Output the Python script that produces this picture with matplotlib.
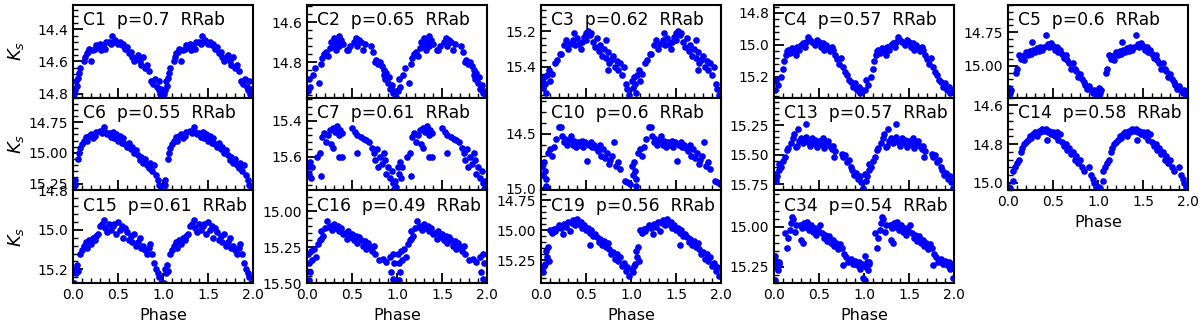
import numpy as np
import matplotlib
matplotlib.use('Agg')
import matplotlib.pyplot as plt
from matplotlib.ticker import MultipleLocator, AutoMinorLocator

# light curves, phase 0..1 as (phase, Ks) pairs
c1 = [(0.01, 14.80), (0.02, 14.78), (0.03, 14.72), (0.04, 14.75), (0.06, 14.70), (0.07, 14.67),
      (0.08, 14.64), (0.12, 14.60), (0.13, 14.57), (0.15, 14.55), (0.17, 14.54), (0.18, 14.52),
      (0.20, 14.60), (0.22, 14.53), (0.24, 14.52), (0.26, 14.50), (0.28, 14.51), (0.30, 14.49),
      (0.31, 14.53), (0.33, 14.50), (0.35, 14.52), (0.37, 14.48), (0.40, 14.48), (0.42, 14.49),
      (0.43, 14.44), (0.45, 14.48), (0.47, 14.47), (0.50, 14.49), (0.52, 14.48), (0.54, 14.50),
      (0.56, 14.49), (0.58, 14.52), (0.60, 14.51), (0.62, 14.55), (0.64, 14.54), (0.66, 14.57),
      (0.68, 14.60), (0.70, 14.58), (0.72, 14.56), (0.74, 14.60), (0.76, 14.62), (0.78, 14.57),
      (0.80, 14.64), (0.82, 14.62), (0.84, 14.66), (0.87, 14.72), (0.89, 14.74), (0.91, 14.71),
      (0.93, 14.76), (0.95, 14.78), (0.96, 14.72), (0.97, 14.80), (0.98, 14.77), (0.99, 14.82)]
c6 = [(0.01, 15.30), (0.02, 15.26), (0.02, 15.22), (0.06, 15.05), (0.07, 15.00), (0.08, 14.96),
      (0.10, 14.93), (0.12, 14.90), (0.14, 14.87), (0.16, 14.90), (0.18, 14.86), (0.20, 14.85),
      (0.22, 14.88), (0.24, 14.86), (0.26, 14.83), (0.30, 14.82), (0.32, 14.84), (0.34, 14.79),
      (0.36, 14.83), (0.38, 14.85), (0.40, 14.84), (0.42, 14.87), (0.44, 14.83), (0.46, 14.88),
      (0.48, 14.85), (0.50, 14.90), (0.52, 14.86), (0.54, 14.92), (0.56, 14.88), (0.58, 14.93),
      (0.60, 14.95), (0.62, 14.92), (0.64, 14.97), (0.66, 14.95), (0.68, 15.00), (0.70, 14.98),
      (0.72, 15.02), (0.74, 15.06), (0.76, 15.03), (0.78, 15.08), (0.80, 15.05), (0.82, 15.10),
      (0.84, 15.12), (0.86, 15.08), (0.88, 15.15), (0.90, 15.10), (0.92, 15.18), (0.94, 15.22),
      (0.96, 15.26), (0.98, 15.30)]
c15 = [(0.01, 15.27), (0.02, 15.20), (0.03, 15.22), (0.04, 15.18), (0.05, 15.21), (0.08, 15.12),
       (0.10, 15.10), (0.12, 15.08), (0.14, 15.06), (0.16, 15.09), (0.18, 15.05), (0.20, 15.07),
       (0.22, 15.04), (0.24, 15.05), (0.26, 15.03), (0.28, 15.02), (0.30, 14.98), (0.32, 14.97),
       (0.34, 14.95), (0.36, 14.99), (0.38, 15.01), (0.40, 14.97), (0.42, 15.00), (0.44, 14.98),
       (0.46, 14.97), (0.48, 15.02), (0.50, 14.96), (0.52, 15.00), (0.54, 14.98), (0.56, 15.04),
       (0.58, 14.99), (0.60, 15.01), (0.62, 15.05), (0.64, 15.03), (0.66, 15.06), (0.68, 15.02),
       (0.70, 15.08), (0.72, 15.06), (0.74, 15.04), (0.76, 15.09), (0.78, 15.08), (0.80, 15.10),
       (0.82, 15.12), (0.84, 15.09), (0.86, 15.07), (0.88, 15.12), (0.90, 15.17), (0.92, 15.20),
       (0.94, 15.22), (0.96, 15.24), (0.98, 15.27)]
c2 = [(0.01, 14.94), (0.02, 14.88), (0.03, 14.92), (0.07, 14.86), (0.09, 14.83), (0.13, 14.90),
      (0.15, 14.81), (0.17, 14.78), (0.19, 14.76), (0.21, 14.75), (0.23, 14.77), (0.25, 14.73),
      (0.27, 14.70), (0.29, 14.72), (0.30, 14.68), (0.32, 14.74), (0.33, 14.70), (0.35, 14.67),
      (0.36, 14.72), (0.38, 14.69), (0.40, 14.71), (0.44, 14.74), (0.46, 14.74), (0.48, 14.72),
      (0.52, 14.70), (0.54, 14.68), (0.56, 14.72), (0.58, 14.69), (0.60, 14.70), (0.62, 14.74),
      (0.64, 14.71), (0.71, 14.72), (0.73, 14.75), (0.75, 14.80), (0.77, 14.79), (0.79, 14.81),
      (0.81, 14.80), (0.83, 14.82), (0.85, 14.84), (0.86, 14.86), (0.87, 14.88), (0.88, 14.85),
      (0.90, 14.90), (0.91, 14.87), (0.92, 14.93), (0.94, 14.91), (0.95, 14.95), (0.97, 14.94),
      (0.99, 14.97)]
c7 = [(0.01, 15.66), (0.02, 15.70), (0.03, 15.63), (0.04, 15.72), (0.06, 15.66), (0.11, 15.60),
      (0.14, 15.58), (0.15, 15.71), (0.17, 15.49), (0.19, 15.47), (0.21, 15.52), (0.23, 15.48),
      (0.25, 15.45), (0.27, 15.53), (0.29, 15.44), (0.29, 15.55), (0.31, 15.46), (0.33, 15.43),
      (0.35, 15.48), (0.35, 15.60), (0.37, 15.45), (0.39, 15.47), (0.39, 15.60), (0.50, 15.44),
      (0.53, 15.46), (0.56, 15.48), (0.56, 15.58), (0.60, 15.49), (0.63, 15.50), (0.66, 15.51),
      (0.69, 15.52), (0.72, 15.55), (0.74, 15.58), (0.76, 15.62), (0.78, 15.56), (0.79, 15.66),
      (0.81, 15.60), (0.83, 15.64), (0.85, 15.58), (0.87, 15.62), (0.88, 15.70), (0.90, 15.66),
      (0.92, 15.72), (0.94, 15.68), (0.95, 15.75), (0.97, 15.78), (0.98, 15.74), (0.99, 15.77)]
c16 = [(0.01, 15.30), (0.02, 15.36), (0.03, 15.42), (0.02, 15.48), (0.05, 15.34), (0.04, 15.28),
       (0.08, 15.26), (0.10, 15.32), (0.12, 15.23), (0.14, 15.20), (0.15, 15.19), (0.16, 15.14),
       (0.18, 15.17), (0.20, 15.12), (0.22, 15.07), (0.24, 15.11), (0.26, 15.10), (0.28, 15.13),
       (0.30, 15.09), (0.32, 15.12), (0.34, 15.10), (0.36, 15.14), (0.38, 15.12), (0.40, 15.16),
       (0.42, 15.15), (0.44, 15.19), (0.46, 15.14), (0.48, 15.18), (0.50, 15.16), (0.52, 15.20),
       (0.54, 15.17), (0.56, 15.22), (0.58, 15.18), (0.60, 15.20), (0.62, 15.24), (0.64, 15.21),
       (0.66, 15.26), (0.68, 15.22), (0.70, 15.25), (0.72, 15.28), (0.74, 15.24), (0.76, 15.30),
       (0.80, 15.34), (0.84, 15.33), (0.88, 15.35), (0.92, 15.32), (0.93, 15.42), (0.95, 15.30),
       (0.96, 15.47), (0.97, 15.36)]
c3 = [(0.01, 15.48), (0.02, 15.52), (0.03, 15.46), (0.04, 15.50), (0.05, 15.55), (0.07, 15.45),
      (0.09, 15.42), (0.10, 15.48), (0.12, 15.44), (0.16, 15.38), (0.18, 15.36), (0.21, 15.33),
      (0.22, 15.33), (0.26, 15.28), (0.28, 15.25), (0.30, 15.30), (0.32, 15.27), (0.36, 15.25),
      (0.37, 15.21), (0.38, 15.28), (0.40, 15.24), (0.42, 15.27), (0.44, 15.30), (0.46, 15.26),
      (0.48, 15.23), (0.50, 15.25), (0.50, 15.21), (0.52, 15.20), (0.54, 15.22), (0.56, 15.21),
      (0.58, 15.26), (0.60, 15.29), (0.62, 15.24), (0.64, 15.31), (0.66, 15.28), (0.68, 15.34),
      (0.70, 15.30), (0.72, 15.35), (0.72, 15.25), (0.74, 15.32), (0.74, 15.42), (0.76, 15.38),
      (0.78, 15.36), (0.80, 15.34), (0.82, 15.40), (0.84, 15.37), (0.86, 15.42), (0.88, 15.38),
      (0.90, 15.45), (0.92, 15.40), (0.94, 15.50), (0.96, 15.53), (0.98, 15.56)]
c10 = [(0.01, 14.80), (0.02, 14.88), (0.03, 14.76), (0.04, 14.84), (0.05, 14.92), (0.06, 14.98),
       (0.08, 14.68), (0.10, 14.64), (0.12, 14.70), (0.14, 14.62), (0.17, 14.55), (0.20, 14.44),
       (0.22, 14.44), (0.23, 14.52), (0.25, 14.58), (0.27, 14.55), (0.29, 14.60), (0.31, 14.56),
       (0.33, 14.52), (0.35, 14.60), (0.37, 14.57), (0.39, 14.62), (0.41, 14.58), (0.43, 14.60),
       (0.45, 14.57), (0.47, 14.62), (0.49, 14.58), (0.51, 14.75), (0.53, 14.60), (0.55, 14.58),
       (0.57, 14.62), (0.59, 14.60), (0.61, 14.63), (0.63, 14.66), (0.65, 14.60), (0.67, 14.70),
       (0.69, 14.64), (0.71, 14.72), (0.73, 14.68), (0.75, 14.78), (0.77, 14.74), (0.79, 14.70),
       (0.81, 14.58), (0.83, 14.80), (0.85, 14.76), (0.88, 14.82), (0.93, 14.93), (0.96, 14.94),
       (0.99, 14.96)]
c19 = [(0.01, 15.32), (0.02, 15.35), (0.03, 15.30), (0.04, 15.28), (0.06, 15.17), (0.07, 15.22),
       (0.08, 15.14), (0.09, 15.26), (0.10, 15.00), (0.12, 15.02), (0.14, 14.99), (0.16, 15.01),
       (0.18, 14.98), (0.20, 14.96), (0.22, 14.98), (0.24, 15.03), (0.26, 14.95), (0.28, 14.97),
       (0.30, 14.93), (0.32, 15.01), (0.34, 14.94), (0.36, 14.92), (0.38, 14.96), (0.40, 14.91),
       (0.42, 14.95), (0.44, 14.93), (0.46, 14.98), (0.48, 14.96), (0.50, 15.00), (0.52, 14.98),
       (0.54, 15.02), (0.54, 15.12), (0.56, 15.00), (0.58, 15.05), (0.60, 15.03), (0.62, 15.06),
       (0.64, 15.10), (0.66, 15.07), (0.68, 15.12), (0.70, 15.09), (0.72, 15.14), (0.74, 15.11),
       (0.76, 15.16), (0.78, 15.20), (0.80, 15.18), (0.82, 15.24), (0.84, 15.20), (0.86, 15.26),
       (0.88, 15.22), (0.90, 15.30), (0.92, 15.27), (0.94, 15.34), (0.96, 15.31), (0.98, 15.38)]
c4 = [(0.01, 15.28), (0.02, 15.22), (0.04, 15.25), (0.08, 15.20), (0.10, 15.15), (0.11, 15.10),
      (0.13, 15.06), (0.14, 15.04), (0.16, 15.03), (0.18, 15.05), (0.20, 15.02), (0.22, 15.04),
      (0.24, 15.06), (0.26, 15.01), (0.28, 15.03), (0.30, 15.00), (0.32, 14.99), (0.34, 15.01),
      (0.36, 14.98), (0.38, 14.95), (0.40, 14.97), (0.42, 14.98), (0.44, 14.99), (0.46, 15.00),
      (0.48, 14.97), (0.50, 14.98), (0.52, 15.01), (0.54, 14.99), (0.56, 15.03), (0.58, 15.00),
      (0.60, 15.02), (0.62, 15.04), (0.64, 15.01), (0.66, 15.03), (0.68, 15.06), (0.70, 15.09),
      (0.72, 15.12), (0.74, 15.08), (0.77, 15.14), (0.79, 15.17), (0.81, 15.19), (0.83, 15.22),
      (0.86, 15.23), (0.88, 15.26), (0.90, 15.24), (0.92, 15.28), (0.94, 15.26), (0.96, 15.30),
      (0.98, 15.28)]
c13 = [(0.01, 15.66), (0.02, 15.72), (0.03, 15.68), (0.05, 15.63), (0.06, 15.58), (0.08, 15.60),
       (0.10, 15.55), (0.12, 15.52), (0.14, 15.46), (0.16, 15.44), (0.19, 15.40), (0.21, 15.36),
       (0.22, 15.32), (0.24, 15.43), (0.26, 15.42), (0.27, 15.28), (0.28, 15.38), (0.30, 15.36),
       (0.32, 15.40), (0.34, 15.38), (0.35, 15.24), (0.36, 15.35), (0.38, 15.39), (0.40, 15.42),
       (0.42, 15.36), (0.44, 15.40), (0.46, 15.37), (0.48, 15.43), (0.50, 15.38), (0.52, 15.41),
       (0.54, 15.36), (0.56, 15.44), (0.58, 15.40), (0.60, 15.38), (0.62, 15.42), (0.64, 15.45),
       (0.66, 15.42), (0.67, 15.52), (0.68, 15.47), (0.75, 15.49), (0.77, 15.52), (0.79, 15.50),
       (0.81, 15.56), (0.83, 15.54), (0.85, 15.60), (0.87, 15.63), (0.89, 15.67), (0.91, 15.65),
       (0.93, 15.70), (0.95, 15.68), (0.97, 15.73), (0.99, 15.78)]
c34 = [(0.01, 15.18), (0.01, 15.33), (0.02, 15.25), (0.03, 15.22), (0.04, 15.27), (0.05, 15.22),
       (0.06, 15.23), (0.12, 15.04), (0.14, 15.13), (0.16, 15.07), (0.18, 15.02), (0.19, 14.98),
       (0.20, 14.94), (0.21, 14.95), (0.23, 15.03), (0.24, 14.99), (0.29, 14.99), (0.30, 15.08),
       (0.31, 15.01), (0.32, 15.10), (0.33, 14.98), (0.35, 15.00), (0.37, 14.97), (0.39, 15.02),
       (0.41, 14.99), (0.43, 15.03), (0.45, 15.01), (0.47, 15.05), (0.49, 15.02), (0.51, 14.99),
       (0.53, 15.04), (0.55, 15.07), (0.57, 15.05), (0.59, 15.09), (0.61, 15.06), (0.63, 15.10),
       (0.65, 15.08), (0.67, 15.12), (0.69, 15.10), (0.71, 15.14), (0.73, 15.11), (0.75, 15.13),
       (0.77, 15.24), (0.78, 15.17), (0.80, 15.19), (0.82, 15.22), (0.86, 15.20), (0.88, 15.23),
       (0.90, 15.21), (0.92, 15.24), (0.94, 15.22), (0.96, 15.26), (0.98, 15.23), (0.99, 15.32)]
c5 = [(0.01, 15.16), (0.01, 15.22), (0.02, 15.20), (0.03, 15.18), (0.09, 15.05), (0.10, 15.02),
      (0.12, 14.92), (0.14, 14.95), (0.16, 14.93), (0.18, 14.96), (0.20, 14.90), (0.22, 14.92),
      (0.24, 14.89), (0.26, 14.91), (0.27, 14.82), (0.28, 14.88), (0.30, 14.90), (0.32, 14.87),
      (0.34, 14.89), (0.36, 14.86), (0.38, 14.88), (0.40, 14.86), (0.42, 14.77), (0.44, 14.84),
      (0.46, 14.86), (0.48, 14.83), (0.50, 14.85), (0.52, 14.88), (0.54, 14.86), (0.56, 14.90),
      (0.58, 14.88), (0.60, 14.91), (0.62, 14.94), (0.64, 14.92), (0.66, 14.96), (0.68, 14.98),
      (0.70, 15.02), (0.72, 14.98), (0.74, 15.02), (0.76, 15.04), (0.78, 15.08), (0.80, 15.06),
      (0.82, 15.10), (0.84, 15.12), (0.86, 15.14), (0.88, 15.17), (0.90, 15.15), (0.92, 15.18),
      (0.94, 15.20), (0.96, 15.18), (0.98, 15.21)]
c14 = [(0.01, 15.02), (0.02, 15.03), (0.05, 14.99), (0.06, 14.94), (0.08, 14.92), (0.10, 14.90),
       (0.12, 14.88), (0.14, 14.84), (0.16, 14.82), (0.18, 14.80), (0.20, 14.79), (0.22, 14.78),
       (0.24, 14.76), (0.26, 14.77), (0.28, 14.75), (0.30, 14.74), (0.32, 14.76), (0.34, 14.73),
       (0.36, 14.74), (0.38, 14.72), (0.40, 14.73), (0.42, 14.72), (0.43, 14.78), (0.44, 14.74),
       (0.46, 14.73), (0.48, 14.75), (0.50, 14.74), (0.52, 14.76), (0.54, 14.74), (0.56, 14.78),
       (0.58, 14.75), (0.60, 14.79), (0.62, 14.81), (0.64, 14.80), (0.66, 14.83), (0.68, 14.82),
       (0.70, 14.85), (0.72, 14.84), (0.74, 14.88), (0.76, 14.86), (0.78, 14.90), (0.80, 14.88),
       (0.82, 14.92), (0.84, 14.94), (0.90, 14.92), (0.92, 14.96), (0.94, 14.98), (0.96, 15.00),
       (0.98, 15.02)]

names = ['C1', 'C6', 'C15', 'C2', 'C7', 'C16', 'C3', 'C10', 'C19', 'C4', 'C13', 'C34', 'C5', 'C14']
periods = ['0.7', '0.55', '0.61', '0.65', '0.61', '0.49', '0.62', '0.6', '0.56', '0.57', '0.57', '0.54', '0.6', '0.58']
curves = [c1, c6, c15, c2, c7, c16, c3, c10, c19, c4, c13, c34, c5, c14]

# panel layout: (column, row), y limits (faint, bright), major y step
cells = [(0, 0), (0, 1), (0, 2), (1, 0), (1, 1), (1, 2), (2, 0), (2, 1), (2, 2),
         (3, 0), (3, 1), (3, 2), (4, 0), (4, 1)]
ylims = [(14.825, 14.25), (15.306, 14.55), (15.27, 14.80), (14.975, 14.515), (15.79, 15.27),
         (15.50, 14.855), (15.577, 15.05), (15.02, 14.17), (15.44, 14.67), (15.33, 14.75),
         (15.80, 15.015), (15.35, 14.775), (15.235, 14.55), (15.04, 14.56)]
ysteps = [0.2, 0.25, 0.2, 0.2, 0.2, 0.25, 0.2, 0.5, 0.25, 0.2, 0.25, 0.25, 0.25, 0.2]

W, H = 1200, 325
fig = plt.figure(figsize=(12, 3.25), dpi=100)
lefts = [73, 307, 541, 774, 1008]
top = 5
rowh = 92.7

for k, name in enumerate(names):
    col, row = cells[k]
    y0 = top + row * rowh
    ax = fig.add_axes([lefts[col] / W, 1 - (y0 + rowh) / H, 180 / W, rowh / H])
    ph, mag = np.array(curves[k]).T
    ax.plot(np.concatenate([ph, ph + 1]), np.concatenate([mag, mag]), 'o',
            color='blue', ms=4.8, mew=0)
    ax.set_xlim(0, 2)
    ax.set_ylim(*ylims[k])
    ax.xaxis.set_major_locator(MultipleLocator(0.5))
    ax.xaxis.set_minor_locator(AutoMinorLocator(5))
    ax.yaxis.set_major_locator(MultipleLocator(ysteps[k]))
    ax.yaxis.set_minor_locator(AutoMinorLocator(5))
    ax.tick_params(which='both', direction='in', top=False, right=False, labelsize=10)
    ax.tick_params(which='major', length=7, width=1.3)
    ax.tick_params(which='minor', length=3.5, width=1.0)
    for sp in ax.spines.values():
        sp.set_linewidth(1.5)
    ax.text(0.054, 0.833, f'{name}  p={periods[k]}  RRab', transform=ax.transAxes,
            ha='left', va='center', fontsize=12.3)
    last = (row == 2) or (col == 4 and row == 1)
    if last:
        ax.set_xlabel('Phase', fontsize=11.5)
    else:
        ax.tick_params(labelbottom=False)
    if col == 0:
        ax.set_ylabel('$K_s$', fontsize=13)
        ax.yaxis.set_label_coords(-0.26, 0.5)

fig.savefig('out.png', dpi=100)
